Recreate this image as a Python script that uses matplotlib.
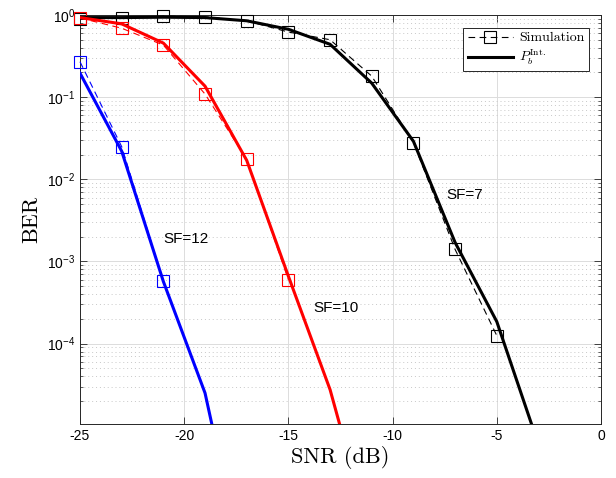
import matplotlib
matplotlib.use("Agg")
import matplotlib.pyplot as plt
from matplotlib.font_manager import FontProperties
from matplotlib.ticker import LogLocator, NullFormatter, FixedLocator

plt.rcParams['font.family'] = ['Liberation Sans', 'DejaVu Sans']
plt.rcParams['mathtext.fontset'] = 'custom'
plt.rcParams['mathtext.rm'] = 'Liberation Sans'
plt.rcParams['mathtext.it'] = 'Liberation Sans:italic'
plt.rcParams['mathtext.bf'] = 'Liberation Sans:bold'
plt.rcParams['axes.unicode_minus'] = False

# ---- data ----
snr_sim = [-25, -23, -21, -19, -17, -15, -13, -11, -9, -7, -5]
sim_sf7 = [0.89, 0.92, 0.97, 0.95, 0.85, 0.62, 0.50, 0.18, 0.028, 0.0014, 1.25e-4]
sim_sf10 = [0.92, 0.69, 0.43, 0.109, 0.0175, 6.0e-4]
sim_sf12 = [0.27, 0.025, 5.7e-4]

snr_th = [-25, -23, -21, -19, -17, -15, -13, -11, -9, -7, -5, -3]
th_sf7 = [0.93, 0.93, 0.94, 0.93, 0.85, 0.67, 0.44, 0.148, 0.029, 0.0017, 1.85e-4, 5.9e-6]
th_sf10 = [0.93, 0.78, 0.455, 0.136, 0.017, 6.6e-4, 2.75e-5, 4e-7]
th_sf12 = [0.196, 0.022, 5.7e-4, 2.5e-5, 1.2e-7]

x_ticks = [-25, -20, -15, -10, -5, 0]
sf_labels = ["SF=7", "SF=10", "SF=12"]
label_pos = [(-7.4, 6.4e-3), (-13.8, 2.7e-4), (-21.0, 1.9e-3)]
colors = ["black", "red", "blue"]

fig = plt.figure(figsize=(6.16, 4.78), dpi=100)
ax = fig.add_axes([80/616, 1-424/478, 521/616, 409/478])

sims = [sim_sf7, sim_sf10, sim_sf12]
ths = [th_sf7, th_sf10, th_sf12]
for i, (s, t, c) in enumerate(zip(sims, ths, colors)):
    ax.plot(snr_sim[:len(s)], s, linestyle=(0, (6, 4)), color=c, lw=0.8,
            marker='s', markersize=8.5, markerfacecolor='none', markeredgewidth=0.8,
            clip_on=False, label='Simulation' if i == 0 else None, zorder=3)
    ax.plot(snr_th[:len(t)], t, '-', color=c, lw=2.2,
            label=r'$P_b^{\mathrm{Int.}}$' if i == 0 else None, zorder=4)

ax.set_yscale('log')
ax.set_xlim(-25, 0)
ax.set_ylim(1.05e-5, 1)
ax.xaxis.set_major_locator(FixedLocator(x_ticks))
ax.yaxis.set_major_locator(FixedLocator([1e-4, 1e-3, 1e-2, 1e-1, 1]))
ax.yaxis.set_minor_locator(LogLocator(base=10, subs=range(2, 10), numticks=20))
ax.yaxis.set_minor_formatter(NullFormatter())
from matplotlib.ticker import LogFormatterSciNotation
ax.yaxis.set_major_formatter(LogFormatterSciNotation())

ax.grid(True, which='major', color='#dcdcdc', lw=0.7, linestyle='-')
ax.grid(True, which='minor', axis='y', color='#c8c8c8', lw=0.7, linestyle=(0, (1, 3)))
ax.set_axisbelow(True)

ax.tick_params(which='both', direction='in', top=True, right=True, colors='#262626', labelcolor='black', labelsize=10)
ax.tick_params(which='major', length=5, width=0.6)
ax.tick_params(which='minor', length=2.5, width=0.5)
for sp in ax.spines.values():
    sp.set_color('#262626')
    sp.set_linewidth(0.7)

ax.set_xlabel('SNR (dB)', fontfamily='cmr10', fontsize=16, labelpad=2)
ax.set_ylabel('BER', fontfamily='cmr10', fontsize=16, labelpad=4)

for lab, (lx, ly) in zip(sf_labels, label_pos):
    ax.text(lx, ly, lab, fontsize=11, va='center', ha='left')

fp = FontProperties(family='cmr10', size=10, math_fontfamily='cm')
leg = ax.legend(loc='upper right', prop=fp, handlelength=3.3, fancybox=False,
                edgecolor='#262626', framealpha=1, borderaxespad=0.9,
                borderpad=0.3, labelspacing=0.25, handletextpad=0.4)
leg.get_frame().set_linewidth(0.7)

fig.savefig('out.png', dpi=100)
